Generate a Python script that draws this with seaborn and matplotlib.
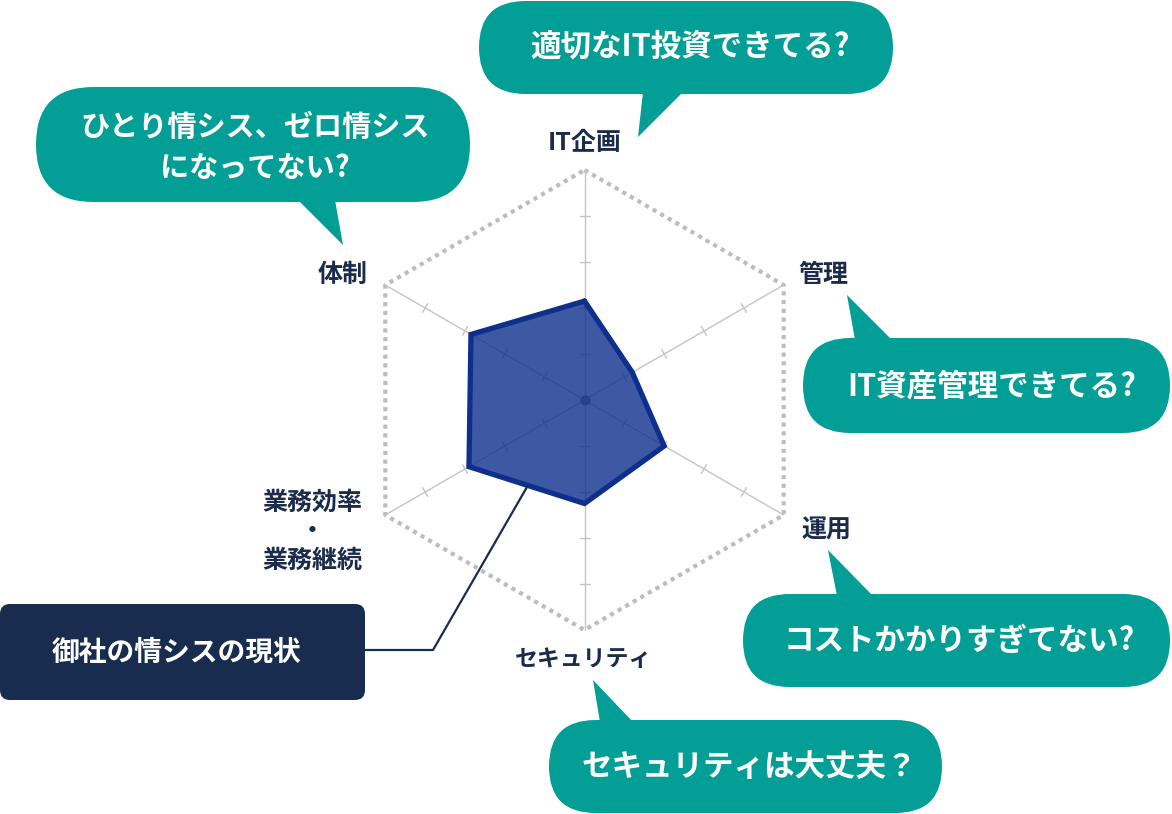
import numpy as np
import matplotlib.pyplot as plt
import seaborn as sns
from matplotlib.patches import FancyBboxPatch, Polygon

# -------------------------
# DATA
# -------------------------
axis_labels = ["IT企画", "管理", "運用", "セキュリティ", "業務効率\n・\n業務継続", "体制"]
values = [2.15, 1.2, 2.0, 2.25, 2.9, 2.85]
max_level = 5
tick_levels = [1, 2, 3, 4]

questions = [
    "適切なIT投資できてる?",
    "ひとり情シス、ゼロ情シス\nになってない?",
    "IT資産管理できてる?",
    "コストかかりすぎてない?",
    "セキュリティは大丈夫？",
]
status_label = "御社の情シスの現状"

# -------------------------
# STYLE
# -------------------------
sns.set_theme(style="white")
plt.rcParams['font.family'] = ['Noto Sans CJK JP', 'DejaVu Sans']

TEAL = "#039e96"
NAVY = "#172c4e"
POLY = "#0e2f8c"
TEXT = "#1b2b4b"
GRID = "#c4c4c4"
FRAME = "#bdbdbd"

W, H = 1172, 814
fig = plt.figure(figsize=(W / 100, H / 100), dpi=100)

# radar axes in value units, centre placed at pixel (584.5, 400)
cx, cy, unit = 584.5, 400, 46
ax_r = fig.add_axes([0, 0, 1, 1])
ax_r.set_xlim(-cx / unit, (W - cx) / unit)
ax_r.set_ylim(-(H - cy) / unit, cy / unit)
ax_r.axis('off')

# decoration axes in pixel units
ax = fig.add_axes([0, 0, 1, 1])
ax.set_xlim(0, W)
ax.set_ylim(H, 0)
ax.axis('off')
ax.patch.set_visible(False)

# -------------------------
# RADAR
# -------------------------
n = len(values)
angles = np.deg2rad(90 - 360 / n * np.arange(n))
cos_a, sin_a = np.cos(angles), np.sin(angles)

# outer dashed hexagon
hx = np.append(max_level * cos_a, max_level * cos_a[0])
hy = np.append(max_level * sin_a, max_level * sin_a[0])
ax_r.plot(hx, hy, color=FRAME, lw=3, ls=(0, (1, 1.1)), dash_capstyle='butt', zorder=1)

# spokes and ticks
tick_half = 5 / unit
for c, s in zip(cos_a, sin_a):
    ax_r.plot([0, max_level * c], [0, max_level * s], color=GRID, lw=1, zorder=1)
    for lv in tick_levels:
        px, py = lv * c, lv * s
        ax_r.plot([px - s * tick_half, px + s * tick_half],
                  [py + c * tick_half, py - c * tick_half], color=GRID, lw=1, zorder=1)

ax_r.scatter([0], [0], s=55, color="#8a8a8a", zorder=2, linewidths=0)

vx = np.array(values) * cos_a
vy = np.array(values) * sin_a
ax_r.fill(vx, vy, color=POLY, alpha=0.8, lw=0, zorder=3)
ax_r.plot(np.append(vx, vx[0]), np.append(vy, vy[0]), color=POLY, lw=3.8,
          solid_joinstyle='miter', zorder=4)

# axis labels (pixel layout)
label_pos = [(585, 143), (823, 275), (826, 531), (584, 660), (312, 0), (343, 275)]
for lab, (lx, ly) in zip(axis_labels, label_pos):
    lines = lab.split("\n")
    if len(lines) == 1:
        fs = 16.5 if len(lab) > 4 else 18
        ax.text(lx, ly, lab, ha='center', va='center', color=TEXT,
                fontsize=fs, fontweight='bold')
    else:
        for line, yy in zip(lines, [503, 531, 561]):
            ax.text(lx, yy, line, ha='center', va='center', color=TEXT,
                    fontsize=18, fontweight='bold')

# -------------------------
# SPEECH BUBBLES
# -------------------------
bubbles = [
    # (x0, y0, x1, y1, tail, text centre x, line y's, font size)
    (479, 1, 893, 94, [(643, 92), (683, 92), (638, 137)], 690, [47], 22),
    (36, 87, 470, 202, [(298, 200), (335, 200), (343, 245)], 255, [127, 168], 21),
    (803, 338, 1170, 433, [(855, 340), (892, 340), (847, 295)], 992, [386], 22),
    (743, 594, 1170, 687, [(837, 596), (873, 596), (828, 550)], 959, [641], 22),
    (549, 720, 942, 813, [(600, 722), (633, 722), (593, 680)], 749, [767], 22),
]
for q, (x0, y0, x1, y1, tail, tx, tys, fs) in zip(questions, bubbles):
    r = (y1 - y0) / 2
    ax.add_patch(FancyBboxPatch((x0, y0), x1 - x0, y1 - y0,
                                boxstyle=f"round,pad=0,rounding_size={r}",
                                fc=TEAL, ec='none', zorder=5))
    ax.add_patch(Polygon(tail, closed=True, fc=TEAL, ec='none', zorder=5))
    for line, ty in zip(q.split("\n"), tys):
        ax.text(tx, ty, line, ha='center', va='center', color='white',
                fontsize=fs, fontweight='bold', zorder=6)

# -------------------------
# STATUS BOX + LEADER LINE
# -------------------------
ax.add_patch(FancyBboxPatch((0, 604), 365, 96, boxstyle="round,pad=0,rounding_size=10",
                            fc=NAVY, ec='none', zorder=5))
ax.text(177, 653, status_label, ha='center', va='center', color='white',
        fontsize=20, fontweight='bold', zorder=6)
ax.plot([527, 433, 365], [487, 650, 650], color=NAVY, lw=1.6, zorder=4)

fig.savefig("out.png", dpi=100)
